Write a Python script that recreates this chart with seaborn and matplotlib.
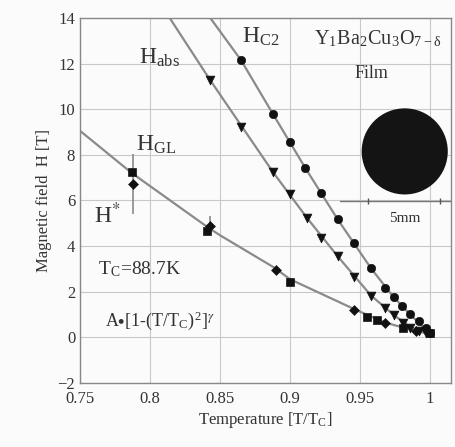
import matplotlib
matplotlib.use("Agg")
import matplotlib.pyplot as plt
import seaborn as sns
from matplotlib.ticker import MultipleLocator

# =========================
# data
# =========================
hc2_t = [0.865, 0.888, 0.900, 0.911, 0.922, 0.934, 0.946, 0.958, 0.968, 0.974, 0.980, 0.986, 0.992, 0.997, 1.000]
hc2_h = [12.15, 9.77, 8.55, 7.42, 6.31, 5.18, 4.12, 3.02, 2.17, 1.77, 1.39, 1.04, 0.70, 0.40, 0.18]

habs_t = [0.843, 0.865, 0.888, 0.900, 0.912, 0.922, 0.934, 0.946, 0.958, 0.968, 0.974, 0.981, 0.986, 0.992, 0.997]
habs_h = [11.27, 9.22, 7.23, 6.28, 5.25, 4.37, 3.56, 2.63, 1.83, 1.29, 0.99, 0.63, 0.41, 0.30, 0.20]

gl_sq_t = [0.787, 0.841, 0.900, 0.955, 0.962, 0.981, 1.000]
gl_sq_h = [7.26, 4.66, 2.41, 0.89, 0.77, 0.40, 0.18]

hstar_t = [0.788, 0.843, 0.890, 0.946, 0.968, 0.990]
hstar_h = [6.72, 4.90, 2.97, 1.21, 0.62, 0.30]
hstar_lo = [5.40, 4.50, 2.97, 1.21, 0.62, 0.30]
hstar_hi = [8.04, 5.30, 2.97, 1.21, 0.62, 0.30]

# fit curves
fit_c2_t = [0.843, 0.865, 0.888, 0.911, 0.934, 0.958, 0.974, 0.986, 0.997, 1.000]
fit_c2_h = [14.0, 12.15, 9.77, 7.42, 5.18, 3.02, 1.77, 1.00, 0.35, 0.15]
fit_abs_t = [0.814, 0.843, 0.888, 0.912, 0.934, 0.958, 0.974, 0.986, 1.000]
fit_abs_h = [14.0, 11.27, 7.23, 5.25, 3.56, 1.83, 0.99, 0.45, 0.15]
fit_gl_t = [0.750, 0.787, 0.843, 0.851, 0.889, 0.900, 0.947, 0.968, 0.990, 1.000]
fit_gl_h = [9.05, 7.20, 4.75, 4.44, 3.05, 2.55, 1.21, 0.65, 0.28, 0.15]

# =========================
# style
# =========================
sns.set_style("whitegrid")
plt.rcParams["font.family"] = ["Liberation Serif", "DejaVu Serif"]
plt.rcParams["mathtext.fontset"] = "stix"

txt = "#333333"
grey = "#8a8a8a"

fig = plt.figure(figsize=(4.55, 4.47), dpi=100)
fig.patch.set_facecolor("#fbfbfb")
ax = fig.add_axes([0.176, 0.143, 0.815, 0.817])
ax.set_facecolor("#fbfbfb")

# fit lines
for t, h in [(fit_c2_t, fit_c2_h), (fit_abs_t, fit_abs_h), (fit_gl_t, fit_gl_h)]:
    sns.lineplot(x=t, y=h, ax=ax, color=grey, lw=1.6, sort=False, zorder=2)

# error bars on H*
ax.vlines(hstar_t, hstar_lo, hstar_hi, color=grey, lw=1.2, zorder=2)

sns.scatterplot(x=hc2_t, y=hc2_h, ax=ax, marker="o", s=36, color="#111111", edgecolor="#111111", zorder=3)
sns.scatterplot(x=habs_t, y=habs_h, ax=ax, marker="v", s=40, color="#111111", edgecolor="#111111", zorder=3)
sns.scatterplot(x=gl_sq_t, y=gl_sq_h, ax=ax, marker="s", s=36, color="#111111", edgecolor="#111111", zorder=3)
sns.scatterplot(x=hstar_t, y=hstar_h, ax=ax, marker="D", s=26, color="#111111", edgecolor="#111111", zorder=3)

ax.set_xlim(0.75, 1.015)
ax.set_ylim(-2, 14)
ax.xaxis.set_major_locator(MultipleLocator(0.05))
ax.xaxis.set_minor_locator(MultipleLocator(0.01))
ax.yaxis.set_major_locator(MultipleLocator(2))
ax.yaxis.set_minor_locator(MultipleLocator(0.5))
ax.set_xticks([0.75, 0.8, 0.85, 0.9, 0.95, 1.0])
ax.set_xticklabels(["0.75", "0.8", "0.85", "0.9", "0.95", "1"])
ax.tick_params(which="both", direction="in", colors="#777777", labelcolor=txt, labelsize=12)
ax.tick_params(which="major", length=4, width=0.8)
ax.tick_params(which="minor", length=2, width=0.6)
ax.tick_params(axis="x", pad=6)
ax.grid(True, which="major", color="#c8c8c8", lw=0.8)
for s in ax.spines.values():
    s.set_color("#888888")
    s.set_linewidth(1.0)

ax.set_xlabel("Temperature [T/T$_\\mathregular{C}$]", fontsize=12, color=txt, labelpad=2)
ax.set_ylabel("Magnetic field  H [T]", fontsize=12, color=txt, labelpad=4)

# annotations
ax.text(0.792, 12.0, "H$_{\\mathregular{abs}}$", fontsize=17, color=txt)
ax.text(0.866, 12.9, "H$_{\\mathregular{C2}}$", fontsize=17, color=txt)
ax.text(0.917, 12.85, "Y$_{\\mathregular{1}}$Ba$_{\\mathregular{2}}$Cu$_{\\mathregular{3}}$O$_{\\mathregular{7-\\delta}}$",
        fontsize=14.5, color=txt)
ax.text(0.958, 11.35, "Film", fontsize=13, color=txt, ha="center")
ax.text(0.790, 8.2, "H$_{\\mathregular{GL}}$", fontsize=17, color=txt)
ax.text(0.760, 5.0, "H$^{*}$", fontsize=17, color=txt)
ax.text(0.763, 2.75, "T$_{\\mathregular{C}}$=88.7K", fontsize=14, color=txt)
ax.text(0.768, 0.5, "A$\\bullet$[1-(T/T$_{\\mathregular{C}}$)$^{\\mathregular{2}}$]$^{\\gamma}$", fontsize=13, color=txt)

# sample picture with scale bar (disk sized in points so it stays round)
ax.scatter([0.982], [8.15], s=62 ** 2, marker="o", color="#141414", edgecolor="none", zorder=4)
ax.plot([0.9355, 1.015], [5.98, 5.98], color="#777777", lw=1.0, zorder=4)
ax.plot([0.9556, 1.0072], [5.98, 5.98], color="#555555", lw=0, marker="|", ms=5, zorder=4)
ax.text(0.982, 5.05, "5mm", fontsize=11, color=txt, ha="center")

plt.savefig("out.png", dpi=100, facecolor=fig.get_facecolor())
